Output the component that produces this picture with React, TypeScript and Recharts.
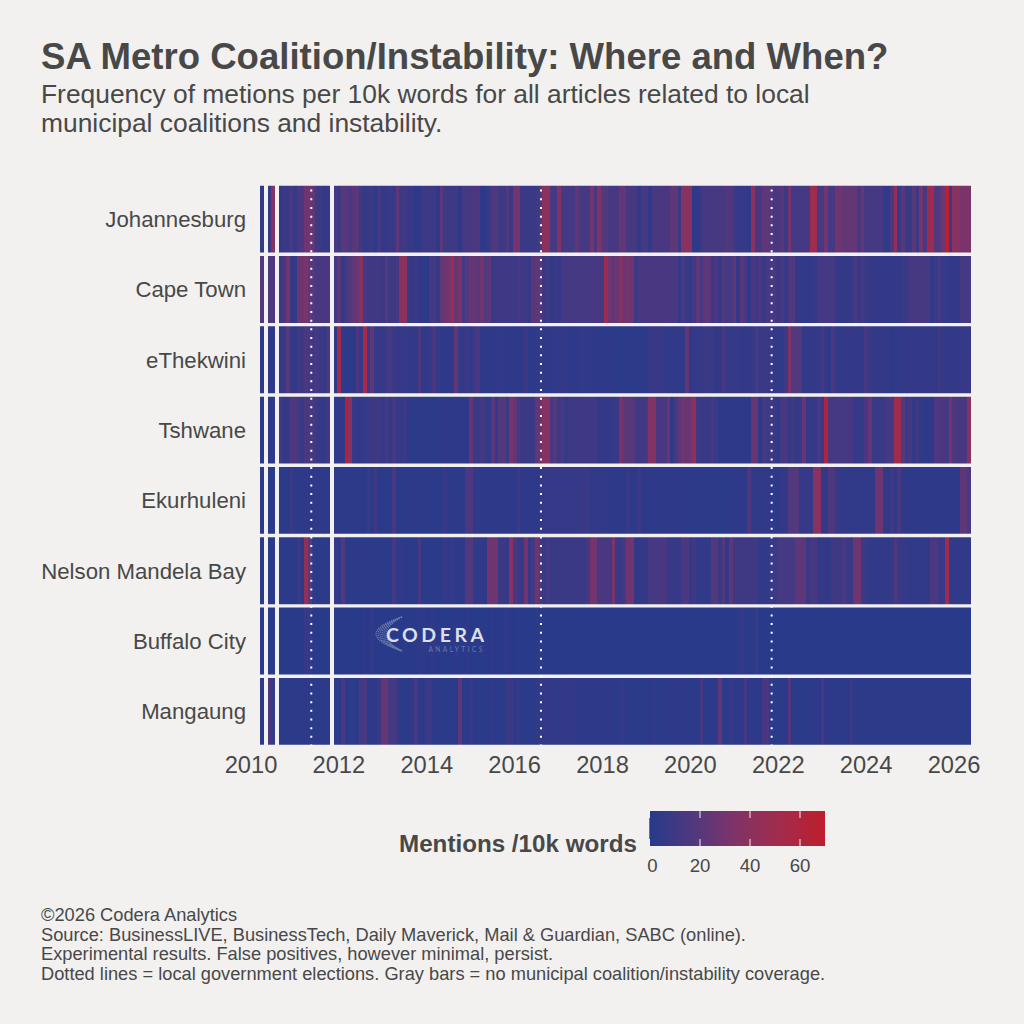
import React from "react";
import { BarChart, Bar, Cell, XAxis, YAxis, ReferenceLine } from "recharts";

// months run from Apr 2010, null = month with no coverage at all
const johannesburg = [
  4, null, 8, 35, null, 5, 8, 8, 12, 6,
  15, 15, 28, 28, 22, 10, 8, 4, 6, null,
  12, 10, 20, 20, 15, 20, 20, 10, 5, 8,
  8, 3, 12, 5, 6, 8, 7, 22, 10, 10,
  7, 7, 3, 3, 9, 9, 9, 9, 3, 22,
  9, 9, 9, 9, 3, 13, 13, 13, 16, 16,
  3, 3, 8, 17, 17, 9, 9, 18, 8, 30,
  30, 8, 8, 8, 8, 10, 15, 40, 40, 12,
  12, 35, 12, 12, 12, 12, 22, 12, 12, 12,
  30, 12, 35, 18, 18, 12, 14, 14, 24, 24,
  13, 13, 13, 5, 12, 12, 4, 14, 14, 14,
  14, 14, 22, 22, 8, 38, 38, 38, 3, 3,
  10, 13, 13, 13, 13, 13, 13, 17, 17, 10,
  6, 6, 6, 4, 40, 14, 14, 22, 22, 18,
  14, 14, 18, 10, 30, 12, 12, 12, 12, 12,
  50, 50, 12, 12, 30, 12, 12, 28, 28, 24,
  24, 24, 24, 13, 25, 12, 12, 12, 12, 12,
  4, 4, 15, 45, 8, 20, 8, 8, 20, 8,
  30, 12, 50, 50, 18, 18, 28, 70, 8, 38,
  38, 32, 32, 32,
];
const capeTown = [
  18, null, 16, 16, null, 8, 12, 30, 6, 5,
  28, 28, 32, 22, 18, 14, 14, 14, 14, null,
  10, 22, 5, 12, 18, 22, 26, 40, 12, 10,
  10, 10, 10, 8, 18, 10, 10, 12, 40, 40,
  8, 6, 8, 5, 3, 3, 12, 12, 6, 24,
  28, 30, 50, 25, 32, 12, 18, 25, 25, 22,
  28, 18, 22, 8, 10, 9, 9, 9, 9, 9,
  14, 9, 9, 8, 20, 22, 22, 8, 10, 4,
  8, 6, 14, 12, 12, 12, 12, 12, 12, 12,
  12, 14, 12, 12, 48, 28, 22, 28, 35, 26,
  30, 28, 8, 14, 14, 14, 14, 14, 14, 14,
  14, 14, 14, 14, 5, 12, 6, 5, 10, 22,
  14, 22, 22, 8, 14, 8, 18, 12, 12, 22,
  5, 20, 14, 4, 14, 8, 16, 6, 14, 12,
  14, 6, 12, 6, 16, 18, 5, 4, 4, 4,
  4, 7, 12, 12, 12, 12, 12, 5, 5, 5,
  5, 5, 12, 8, 12, 8, 5, 5, 5, 5,
  5, 5, 5, 5, 5, 8, 8, 13, 13, 13,
  13, 13, 13, 4, 8, 12, 6, 6, 4, 5,
  5, 12, 12, 12,
];
const eThekwini = [
  3, null, 3, 3, null, 5, 6, 20, 5, 5,
  10, 8, 14, 14, 10, 12, 8, 5, 12, null,
  4, 50, 3, 3, 3, 3, 14, 6, 55, 8,
  22, 6, 6, 6, 9, 12, 8, 6, 6, 6,
  6, 4, 4, 16, 4, 5, 6, 14, 6, 3,
  3, 3, 3, 25, 6, 5, 8, 4, 10, 14,
  3, 3, 3, 3, 4, 4, 3, 3, 3, 3,
  3, 3, 8, 3, 3, 4, 5, 5, 3, 3,
  4, 4, 5, 5, 3, 3, 3, 4, 4, 4,
  4, 3, 3, 3, 3, 3, 2, 2, 2, 2,
  2, 2, 2, 2, 2, 2, 7, 7, 7, 7,
  4, 4, 4, 4, 4, 4, 24, 3, 6, 6,
  6, 8, 8, 8, 5, 5, 12, 6, 6, 6,
  6, 5, 5, 5, 6, 12, 8, 8, 8, 8,
  4, 6, 4, 10, 35, 18, 18, 18, 4, 5,
  5, 4, 6, 14, 5, 3, 12, 4, 4, 4,
  6, 5, 5, 5, 5, 12, 8, 5, 5, 5,
  5, 5, 3, 4, 4, 5, 5, 5, 5, 5,
  5, 5, 5, 5, 5, 9, 5, 5, 5, 5,
  5, 6, 6, 6,
];
const tshwane = [
  3, null, 3, 3, null, 14, 4, 6, 16, 16,
  10, 6, 14, 16, 12, 8, 4, 5, 10, null,
  3, 3, 3, 68, 38, 6, 5, 5, 6, 8,
  8, 10, 10, 6, 12, 7, 12, 6, 6, 8,
  3, 2, 2, 2, 2, 2, 2, 2, 3, 3,
  3, 3, 3, 3, 3, 3, 3, 25, 8, 8,
  12, 8, 4, 20, 6, 18, 18, 8, 30, 22,
  14, 8, 8, 8, 8, 25, 25, 38, 35, 14,
  18, 10, 14, 6, 10, 8, 10, 9, 9, 9,
  9, 9, 5, 5, 5, 5, 6, 8, 30, 20,
  20, 20, 14, 10, 10, 12, 35, 35, 14, 14,
  14, 25, 3, 12, 22, 28, 25, 28, 40, 10,
  8, 8, 8, 14, 8, 3, 3, 3, 3, 3,
  3, 2, 3, 3, 25, 25, 3, 12, 10, 10,
  6, 3, 12, 14, 5, 10, 5, 8, 25, 5,
  6, 6, 12, 8, 60, 14, 12, 12, 12, 12,
  12, 14, 6, 6, 6, 14, 25, 8, 8, 8,
  8, 12, 12, 50, 50, 18, 8, 12, 5, 10,
  4, 3, 3, 3, 16, 16, 14, 12, 30, 16,
  14, 14, 14, 38,
];
const ekurhuleni = [
  2, null, 2, 2, null, 2, 2, 2, 8, 3,
  3, 3, 3, 3, 3, 3, 3, 3, 3, null,
  2, 2, 2, 2, 2, 2, 2, 2, 2, 8,
  2, 10, 2, 2, 2, 2, 14, 2, 2, 2,
  2, 2, 2, 2, 2, 2, 2, 2, 2, 2,
  6, 2, 2, 2, 2, 2, 15, 15, 4, 4,
  3, 3, 3, 3, 3, 3, 3, 3, 3, 3,
  10, 3, 3, 3, 3, 3, 5, 5, 6, 6,
  6, 6, 6, 6, 6, 6, 6, 6, 8, 8,
  4, 5, 4, 4, 4, 3, 3, 3, 3, 3,
  6, 3, 3, 8, 3, 3, 3, 3, 3, 3,
  3, 3, 3, 3, 3, 3, 2, 2, 2, 2,
  2, 2, 2, 2, 2, 2, 2, 2, 3, 3,
  3, 3, 3, 16, 4, 4, 4, 4, 4, 3,
  3, 3, 5, 5, 18, 18, 18, 5, 6, 6,
  6, 38, 38, 5, 5, 16, 16, 6, 6, 4,
  4, 4, 4, 4, 4, 4, 4, 4, 28, 28,
  4, 4, 10, 4, 14, 4, 3, 3, 3, 3,
  3, 3, 3, 3, 3, 3, 3, 3, 3, 3,
  3, 22, 22, 14,
];
const nelsonMandelaBay = [
  2, null, 2, 2, null, 2, 2, 2, 2, 2,
  8, 2, 45, 20, 4, 2, 2, 2, 2, null,
  6, 3, 18, 2, 2, 2, 2, 2, 2, 2,
  2, 2, 2, 2, 2, 2, 12, 4, 4, 3,
  2, 2, 2, 14, 2, 2, 2, 2, 2, 2,
  6, 4, 6, 3, 3, 3, 18, 18, 4, 4,
  4, 3, 28, 28, 28, 8, 8, 6, 38, 14,
  8, 8, 28, 6, 12, 28, 15, 6, 12, 8,
  8, 8, 8, 8, 8, 8, 8, 8, 8, 12,
  30, 30, 14, 14, 14, 14, 32, 8, 8, 14,
  28, 28, 5, 5, 5, 5, 12, 12, 12, 14,
  14, 7, 7, 6, 6, 15, 15, 4, 10, 4,
  4, 4, 4, 18, 18, 8, 18, 5, 22, 10,
  10, 10, 10, 10, 10, 10, 4, 4, 4, 8,
  8, 12, 12, 12, 12, 12, 22, 22, 22, 8,
  12, 14, 5, 5, 5, 4, 10, 10, 10, 14,
  8, 8, 28, 28, 10, 8, 4, 4, 4, 4,
  4, 4, 6, 16, 8, 6, 6, 4, 4, 4,
  4, 4, 4, 15, 15, 8, 8, 50, 4, 4,
  4, 4, 4, 4,
];
const buffaloCity = [
  1, null, 1, 1, null, 1, 1, 1, 1, 1,
  1, 1, 6, 6, 1, 1, 1, 1, 1, null,
  1, 1, 1, 1, 1, 1, 1, 1, 3, 1,
  4, 1, 1, 1, 1, 1, 1, 1, 1, 1,
  1, 1, 1, 3, 3, 1, 3, 3, 1, 1,
  1, 1, 1, 3, 1, 1, 3, 1, 1, 1,
  1, 1, 1, 3, 1, 1, 2, 3, 1, 1,
  3, 1, 1, 1, 1, 2, 2, 2, 1, 1,
  1, 1, 1, 1, 1, 1, 1, 1, 1, 1,
  1, 1, 1, 1, 1, 1, 1, 1, 1, 1,
  1, 1, 1, 1, 1, 1, 1, 1, 1, 1,
  1, 1, 1, 1, 1, 1, 1, 1, 1, 1,
  1, 1, 1, 1, 1, 1, 1, 1, 1, 1,
  2, 6, 2, 2, 2, 8, 1, 1, 1, 1,
  1, 1, 1, 1, 1, 1, 1, 1, 1, 1,
  1, 1, 1, 1, 1, 1, 1, 1, 1, 1,
  1, 1, 1, 1, 1, 1, 1, 1, 1, 1,
  1, 1, 1, 1, 1, 1, 1, 1, 1, 1,
  1, 1, 1, 1, 1, 1, 1, 1, 1, 1,
  1, 1, 1, 1,
];
const mangaung = [
  2, null, 14, 6, null, 2, 2, 2, 2, 2,
  2, 3, 3, 2, 2, 2, 2, 2, 2, null,
  2, 2, 14, 2, 2, 2, 2, 12, 12, 3,
  3, 4, 8, 25, 25, 12, 12, 8, 2, 2,
  3, 4, 12, 3, 3, 8, 8, 3, 3, 2,
  2, 2, 2, 2, 22, 2, 2, 6, 2, 2,
  2, 2, 2, 4, 2, 2, 2, 8, 8, 3,
  6, 2, 2, 2, 2, 4, 4, 5, 5, 5,
  4, 4, 5, 5, 5, 5, 3, 3, 3, 3,
  3, 3, 3, 3, 3, 3, 2, 2, 4, 5,
  2, 2, 2, 2, 2, 2, 2, 4, 2, 2,
  3, 3, 3, 3, 3, 3, 2, 2, 2, 2,
  12, 2, 2, 2, 2, 22, 2, 3, 6, 3,
  3, 3, 12, 3, 3, 3, 3, 14, 14, 2,
  2, 2, 2, 3, 18, 3, 2, 2, 2, 2,
  3, 3, 3, 12, 3, 3, 2, 2, 2, 2,
  3, 8, 2, 2, 2, 2, 2, 2, 2, 2,
  2, 2, 2, 2, 2, 2, 2, 2, 2, 2,
  2, 2, 2, 2, 2, 2, 2, 2, 2, 2,
  2, 2, 2, 3,
];

const cities = ["Johannesburg", "Cape Town", "eThekwini", "Tshwane", "Ekurhuleni", "Nelson Mandela Bay", "Buffalo City", "Mangaung"];
const cityValues = [johannesburg, capeTown, eThekwini, tshwane, ekurhuleni, nelsonMandelaBay, buffaloCity, mangaung];
const yearTicks = [2010, 2012, 2014, 2016, 2018, 2020, 2022, 2024, 2026];
const electionDates = [2011.372, 2016.6, 2021.85];
const legendTicks = [0, 20, 40, 60];
const footer = [
  "©2026 Codera Analytics",
  "Source: BusinessLIVE, BusinessTech, Daily Maverick, Mail & Guardian, SABC (online).",
  "Experimental results. False positives, however minimal, persist.",
  "Dotted lines = local government elections. Gray bars = no municipal coalition/instability coverage.",
];

const BG = "#F2F1EF";
const INK = "#484848";
const FONT = "'Liberation Sans', Arial, sans-serif";
const MONTH_W = 3.66; // one month on the x axis, px

// colour ramp, sampled from the legend bar
const RAMP: [number, number, number, number][] = [
  [0, 0x27, 0x3a, 0x8b],
  [17.5, 0x51, 0x38, 0x7e],
  [35, 0x82, 0x33, 0x66],
  [52.5, 0xa3, 0x2b, 0x4b],
  [70, 0xbe, 0x1e, 0x2d],
];

function colorFor(v: number) {
  let i = 0;
  while (i < RAMP.length - 2 && v > RAMP[i + 1][0]) i++;
  const a = RAMP[i];
  const b = RAMP[i + 1];
  const t = Math.min(1, (v - a[0]) / (b[0] - a[0]));
  const c = [1, 2, 3].map((k) => Math.round(a[k] + (b[k] - a[k]) * t));
  return `rgb(${c[0]},${c[1]},${c[2]})`;
}

// one row per month that has coverage; every city takes one unit of the stack
const monthIdx = johannesburg.map((v, i) => (v === null ? -1 : i)).filter((i) => i >= 0);
const table = monthIdx.map((i) => {
  const row: Record<string, number> = { year: 2010 + (3 + i) / 12 };
  cities.forEach((c) => {
    row[c] = 1;
  });
  return row;
});

// first city sits at the top, so stack from the last one
const stackOrder = cities.map((_, i) => cities.length - 1 - i);

// bars get truncated to whole pixels, which leaves hairlines between months
const MonthTile = (p: any) => {
  const mid = p.x + p.width / 2;
  return <rect x={mid - MONTH_W / 2} y={p.y} width={MONTH_W} height={p.height} fill={p.fill} shapeRendering="crispEdges" />;
};

function Logo() {
  const swirl = [350, 354, 358, 362, 366, 370];
  return (
    <svg width={1024} height={1024} style={{ position: "absolute", left: 0, top: 0, pointerEvents: "none" }}>
      <g fill="none" stroke="#7481b0" strokeWidth={1.2} strokeDasharray="1.2 0.9" opacity={0.9}>
        {swirl.map((c) => (
          <path key={c} d={`M 402 617 Q ${c} 634 402 651`} />
        ))}
      </g>
      <text x={386} y={642} fontFamily="Lato, sans-serif" fontWeight={700} fontSize={19.5} letterSpacing={3.5} fill="#DDDEE6">
        CODERA
      </text>
      <text x={428.5} y={651.5} fontFamily="Lato, sans-serif" fontSize={6.6} letterSpacing={2.4} fill="#6D79AD">
        ANALYTICS
      </text>
    </svg>
  );
}

function LegendBar() {
  return (
    <>
      <div style={{ position: "absolute", left: 399, top: 830, fontSize: 24.2, fontWeight: 700, color: INK, lineHeight: "28px", whiteSpace: "nowrap" }}>
        Mentions /10k words
      </div>
      <svg width={200} height={70} style={{ position: "absolute", left: 640, top: 805 }}>
        <defs>
          <linearGradient id="ramp">
            {RAMP.map((s) => (
              <stop key={s[0]} offset={s[0] / 70} stopColor={colorFor(s[0])} />
            ))}
          </linearGradient>
        </defs>
        <rect x={9.3} y={13} width={2} height={21} fill={colorFor(0)} />
        <rect x={10} y={6} width={175} height={35} fill="url(#ramp)" />
        {legendTicks.slice(1).map((t) => (
          <g key={t} stroke="#F2F1EF" strokeWidth={1}>
            <line x1={10 + t * 2.5} x2={10 + t * 2.5} y1={6} y2={13} />
            <line x1={10 + t * 2.5} x2={10 + t * 2.5} y1={34} y2={41} />
          </g>
        ))}
        {legendTicks.map((t) => (
          <text key={t} x={t === 0 ? 12.5 : 10 + t * 2.5} y={67} textAnchor="middle" fontSize={18.6} fontFamily={FONT} fill={INK}>
            {t}
          </text>
        ))}
      </svg>
    </>
  );
}

export default function App() {
  return (
    <div style={{ position: "absolute", left: 0, top: 0, width: 1024, height: 1024, background: BG, fontFamily: FONT, overflow: "hidden" }}>
      <div style={{ position: "absolute", left: 41, top: 36, fontSize: 36.55, fontWeight: 700, color: INK, lineHeight: "42px", whiteSpace: "nowrap" }}>
        SA Metro Coalition/Instability: Where and When?
      </div>
      <div style={{ position: "absolute", left: 41, top: 80, fontSize: 26.4, color: INK, lineHeight: "28.6px", whiteSpace: "nowrap" }}>
        Frequency of metions per 10k words for all articles related to local
        <br />
        municipal coalitions and instability.
      </div>

      <div style={{ position: "absolute", left: 0, top: 184 }}>
        <BarChart
          width={1024}
          height={600}
          data={table}
          margin={{ top: 0, right: 52, bottom: 0, left: 0 }}
          barCategoryGap={0}
          barGap={0}
        >
          <XAxis
            dataKey="year"
            type="number"
            domain={[2010, 2026.41]}
            ticks={yearTicks}
            allowDataOverflow
            height={37.5}
            axisLine={false}
            tickLine={false}
            tickMargin={4}
            interval={0}
            tick={{ fontSize: 23.7, fill: INK, fontFamily: FONT }}
          />
          <YAxis
            type="number"
            domain={[0, 8]}
            ticks={[0.5, 1.5, 2.5, 3.5, 4.5, 5.5, 6.5, 7.5]}
            interval={0}
            width={251}
            axisLine={false}
            tickLine={false}
            tickSize={0}
            tickMargin={5}
            tickFormatter={(v: number) => cities[7 - Math.floor(v)]}
            tick={{ fontSize: 22.2, fill: INK, fontFamily: FONT }}
          />
          {stackOrder.map((c) => (
            <Bar key={cities[c]} dataKey={cities[c]} stackId="rows" shape={MonthTile} isAnimationActive={false}>
              {monthIdx.map((i) => (
                <Cell key={i} fill={colorFor(cityValues[c][i] as number)} />
              ))}
            </Bar>
          ))}
          {[0, 1, 2, 3, 4, 5, 6, 7, 8].map((y) => (
            <ReferenceLine key={y} y={y} stroke={BG} strokeWidth={3.4} />
          ))}
          {electionDates.map((d) => (
            <ReferenceLine key={d} x={d} stroke="#FFFFFF" strokeWidth={2} strokeDasharray="2 6.67" />
          ))}
        </BarChart>
      </div>

      <Logo />
      <LegendBar />

      <div style={{ position: "absolute", left: 41, top: 905, fontSize: 18.25, color: INK, lineHeight: "19.6px", whiteSpace: "nowrap" }}>
        {footer.map((l) => (
          <div key={l}>{l}</div>
        ))}
      </div>
    </div>
  );
}
